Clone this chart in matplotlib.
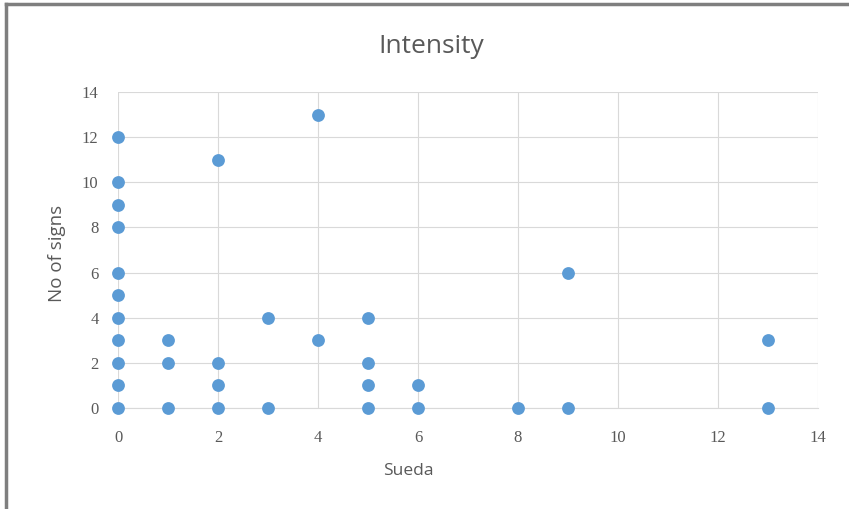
import matplotlib
matplotlib.use('Agg')
from matplotlib import pyplot as plt
from matplotlib.lines import Line2D

# data
sueda = [0, 0, 0, 0, 0, 0, 0, 0, 0, 0, 0,
         1, 1, 1,
         2, 2, 2, 2,
         3, 3,
         4, 4,
         5, 5, 5, 5,
         6, 6,
         8,
         9, 9,
         13, 13]
signs = [0, 1, 2, 3, 4, 5, 6, 8, 9, 10, 12,
         0, 2, 3,
         0, 1, 2, 11,
         0, 4,
         3, 13,
         0, 1, 2, 4,
         0, 1,
         0,
         0, 6,
         0, 3]
ticks = [0, 2, 4, 6, 8, 10, 12, 14]

plt.rcParams['font.family'] = ['Open Sans', 'DejaVu Sans']
txt = '#595959'

fig = plt.figure(figsize=(8.49, 5.09), dpi=100)
ax = fig.add_axes([0.139, 0.1984, 0.8245, 0.6209])

ax.scatter(sueda, signs, s=85, color='#5B9BD5', zorder=3, linewidths=0, clip_on=False)

ax.set_xlim(0, 14)
ax.set_ylim(0, 14)
ax.set_xticks(ticks)
ax.set_yticks(ticks)
ax.grid(True, color='#d9d9d9', linewidth=0.8, zorder=0)
ax.set_axisbelow(True)
for side in ['top', 'right', 'left']:
    ax.spines[side].set_visible(False)
ax.spines['bottom'].set_color('#d9d9d9')
ax.tick_params(length=0, labelsize=12, labelcolor=txt)
ax.tick_params(axis='x', pad=16)
ax.tick_params(axis='y', pad=14)
for lbl in ax.get_xticklabels() + ax.get_yticklabels():
    lbl.set_family(['Liberation Serif', 'DejaVu Serif'])

ax.set_xlabel('Sueda', fontsize=12.5, color=txt)
ax.xaxis.set_label_coords(0.415, -0.175)
ax.set_ylabel('No of signs', fontsize=13.5, color=txt)
ax.yaxis.set_label_coords(-0.074, 0.49)
fig.text(0.508, 0.908, 'Intensity', ha='center', va='center', fontsize=19, color=txt)

# outer frame (top and left edges visible)
fig.add_artist(Line2D([0.0075, 0.0075], [0, 0.992], color='#7f7f7f', linewidth=2.5, transform=fig.transFigure))
fig.add_artist(Line2D([0.0075, 1], [0.992, 0.992], color='#7f7f7f', linewidth=2.5, transform=fig.transFigure))

fig.savefig('out.png', dpi=100)
